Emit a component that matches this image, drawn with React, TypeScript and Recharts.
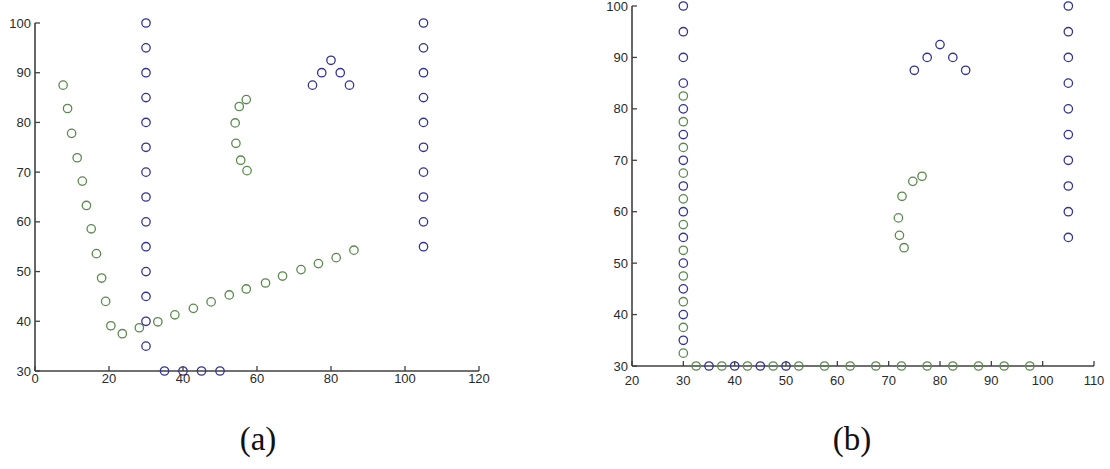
import React from "react";
import { ScatterChart, Scatter, XAxis, YAxis } from "recharts";

// ---------- Panel (a) data ----------
const aXTicks = [0, 20, 40, 60, 80, 100, 120];
const aYTicks = [30, 40, 50, 60, 70, 80, 90, 100];

const aBlueLeftX = 30;
const aBlueLeftY = [35, 40, 45, 50, 55, 60, 65, 70, 75, 80, 85, 90, 95, 100];
const aBlueRightX = 105;
const aBlueRightY = [55, 60, 65, 70, 75, 80, 85, 90, 95, 100];
const aBlueArchX = [75, 77.5, 80, 82.5, 85];
const aBlueArchY = [87.5, 90, 92.5, 90, 87.5];
const aBlueBottomX = [35, 40, 45, 50];
const aBlueBottomY = 30;

const aGreenX = [7.6, 8.8, 9.9, 11.4, 12.8, 13.9, 15.2, 16.6, 18.0, 19.1, 20.5, 23.6, 28.2, 33.2, 37.8, 42.8, 47.6, 52.5, 57.1, 62.3, 66.9, 71.9, 76.6, 81.4, 86.2];
const aGreenY = [87.5, 82.8, 77.8, 72.9, 68.2, 63.3, 58.6, 53.6, 48.7, 44.0, 39.1, 37.5, 38.7, 39.9, 41.3, 42.6, 43.9, 45.3, 46.5, 47.7, 49.1, 50.4, 51.6, 52.8, 54.3];
const aGreenSmallX = [57.1, 55.2, 54.1, 54.3, 55.6, 57.3];
const aGreenSmallY = [84.6, 83.2, 79.9, 75.8, 72.4, 70.3];

// ---------- Panel (b) data ----------
const bXTicks = [20, 30, 40, 50, 60, 70, 80, 90, 100, 110];
const bYTicks = [30, 40, 50, 60, 70, 80, 90, 100];

const bBlueLeftX = 30;
const bBlueLeftY = [35, 40, 45, 50, 55, 60, 65, 70, 75, 80, 85, 90, 95, 100];
const bBlueRightX = 105;
const bBlueRightY = [55, 60, 65, 70, 75, 80, 85, 90, 95, 100];
const bBlueArchX = [75, 77.5, 80, 82.5, 85];
const bBlueArchY = [87.5, 90, 92.5, 90, 87.5];
const bBlueBottomX = [35, 40, 45, 50];
const bBlueBottomY = 30;

const bGreenLeftX = 30;
const bGreenLeftY = [32.5, 37.5, 42.5, 47.5, 52.5, 57.5, 62.5, 67.5, 72.5, 77.5, 82.5];
const bGreenBottomX = [32.5, 37.5, 42.5, 47.5, 52.5, 57.5, 62.5, 67.5, 72.5, 77.5, 82.5, 87.5, 92.5, 97.5];
const bGreenBottomY = 30;
const bGreenCurveX = [76.5, 74.7, 72.6, 71.9, 72.1, 73.0];
const bGreenCurveY = [66.9, 65.9, 63.0, 58.8, 55.4, 53.0];

const panelLabels = ["(a)", "(b)"];

// ---------- helpers ----------
const zipXY = (xs: number[], ys: number[]) => xs.map((x, i) => ({ x, y: ys[i] }));
const colX = (x: number, ys: number[]) => ys.map((y) => ({ x, y }));
const rowY = (xs: number[], y: number) => xs.map((x) => ({ x, y }));

const BLUE = "#333396";
const GREEN = "#5b8a4e";
const AXIS = "#404040";
const TEXT = "#2a2a2a";
const FONT = "'Liberation Sans', Arial, sans-serif";

const ring = (color: string) => (props: any) => (
  <circle cx={props.cx} cy={props.cy} r={4.2} fill="none" stroke={color} strokeWidth={1.3} />
);

const makeXTick = (dy: number) => (props: any) => {
  const { x, y, payload } = props;
  return (
    <g>
      <line x1={x} x2={x} y1={y} y2={y - 5} stroke={AXIS} strokeWidth={1.3} />
      <text x={x} y={y + dy} textAnchor="middle" fontSize={13} fontFamily={FONT} fill={TEXT}>
        {payload.value}
      </text>
    </g>
  );
};

const YTick = (props: any) => {
  const { x, y, payload } = props;
  return (
    <g>
      <line x1={x} x2={x + 5} y1={y} y2={y} stroke={AXIS} strokeWidth={1.3} />
      <text x={x - 4} y={y + 4.5} textAnchor="end" fontSize={13} fontFamily={FONT} fill={TEXT}>
        {payload.value}
      </text>
    </g>
  );
};

export default function App() {
  return (
    <div
      style={{
        position: "absolute",
        left: 0,
        top: 0,
        width: 1110,
        height: 469,
        background: "#ffffff",
        overflow: "hidden",
      }}
    >
      <div style={{ position: "absolute", left: 0, top: 0 }}>
        <ScatterChart width={500} height={400} margin={{ top: 23, right: 21, left: 0, bottom: 0 }}>
          <XAxis
            type="number"
            dataKey="x"
            domain={[0, 120]}
            ticks={aXTicks}
            interval={0}
            height={29}
            tickSize={0}
            tickMargin={0}
            tickLine={false}
            tick={makeXTick(12)}
            axisLine={{ stroke: AXIS, strokeWidth: 1.6 }}
          />
          <YAxis
            type="number"
            dataKey="y"
            domain={[30, 100]}
            ticks={aYTicks}
            interval={0}
            width={35}
            tickSize={0}
            tickMargin={0}
            tickLine={false}
            tick={YTick}
            axisLine={{ stroke: AXIS, strokeWidth: 1.6 }}
          />
          <Scatter data={zipXY(aGreenX, aGreenY)} shape={ring(GREEN)} isAnimationActive={false} />
          <Scatter data={zipXY(aGreenSmallX, aGreenSmallY)} shape={ring(GREEN)} isAnimationActive={false} />
          <Scatter data={colX(aBlueLeftX, aBlueLeftY)} shape={ring(BLUE)} isAnimationActive={false} />
          <Scatter data={colX(aBlueRightX, aBlueRightY)} shape={ring(BLUE)} isAnimationActive={false} />
          <Scatter data={zipXY(aBlueArchX, aBlueArchY)} shape={ring(BLUE)} isAnimationActive={false} />
          <Scatter data={rowY(aBlueBottomX, aBlueBottomY)} shape={ring(BLUE)} isAnimationActive={false} />
        </ScatterChart>
      </div>

      <div style={{ position: "absolute", left: 558, top: 0 }}>
        <ScatterChart width={552} height={400} margin={{ top: 6, right: 16, left: 0, bottom: 0 }}>
          <XAxis
            type="number"
            dataKey="x"
            domain={[20, 110]}
            ticks={bXTicks}
            interval={0}
            height={34}
            tickSize={0}
            tickMargin={0}
            tickLine={false}
            tick={makeXTick(19)}
            axisLine={{ stroke: AXIS, strokeWidth: 1.6 }}
          />
          <YAxis
            type="number"
            dataKey="y"
            domain={[30, 100]}
            ticks={bYTicks}
            interval={0}
            width={74}
            tickSize={0}
            tickMargin={0}
            tickLine={false}
            tick={YTick}
            axisLine={{ stroke: AXIS, strokeWidth: 1.6 }}
          />
          <Scatter data={colX(bGreenLeftX, bGreenLeftY)} shape={ring(GREEN)} isAnimationActive={false} />
          <Scatter data={rowY(bGreenBottomX, bGreenBottomY)} shape={ring(GREEN)} isAnimationActive={false} />
          <Scatter data={zipXY(bGreenCurveX, bGreenCurveY)} shape={ring(GREEN)} isAnimationActive={false} />
          <Scatter data={colX(bBlueLeftX, bBlueLeftY)} shape={ring(BLUE)} isAnimationActive={false} />
          <Scatter data={colX(bBlueRightX, bBlueRightY)} shape={ring(BLUE)} isAnimationActive={false} />
          <Scatter data={zipXY(bBlueArchX, bBlueArchY)} shape={ring(BLUE)} isAnimationActive={false} />
          <Scatter data={rowY(bBlueBottomX, bBlueBottomY)} shape={ring(BLUE)} isAnimationActive={false} />
        </ScatterChart>
      </div>

      <svg
        width={1110}
        height={469}
        style={{ position: "absolute", left: 0, top: 0, pointerEvents: "none" }}
      >
        <text x={258} y={450} textAnchor="middle" fontSize={33} fontFamily="'Liberation Serif', 'Times New Roman', serif" fill="#111">
          {panelLabels[0]}
        </text>
        <text x={852} y={450} textAnchor="middle" fontSize={33} fontFamily="'Liberation Serif', 'Times New Roman', serif" fill="#111">
          {panelLabels[1]}
        </text>
      </svg>
    </div>
  );
}
